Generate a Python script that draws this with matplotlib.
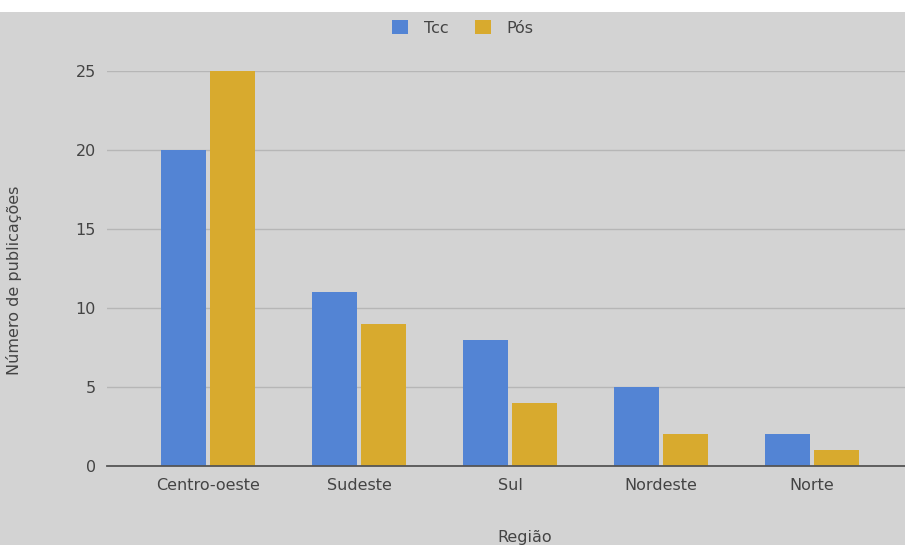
import numpy as np
import matplotlib
matplotlib.use('agg')
import matplotlib.pyplot as plt
from matplotlib.patches import Rectangle

regioes = ['Centro-oeste', 'Sudeste', 'Sul', 'Nordeste', 'Norte']
tcc = [20, 11, 8, 5, 2]
pos = [25, 9, 4, 2, 1]
yticks = [0, 5, 10, 15, 20, 25]

plt.rcParams['font.family'] = ['DejaVu Sans']
bg = '#d3d3d3'
txt = '#444444'

fig = plt.figure(figsize=(9.05, 5.45), dpi=100, facecolor=bg)
# thin white strip at the top of the picture
fig.patches.append(Rectangle((0, 1 - 12 / 545), 1, 12 / 545, transform=fig.transFigure,
                             facecolor='white', edgecolor='none', zorder=-10))

ax = fig.add_axes([107 / 905, 1 - 466 / 545, 1 - 107 / 905, (466 - 71) / 545])
ax.set_facecolor(bg)

x = np.arange(len(regioes))
w = 0.30
ax.bar(x - 0.162, tcc, w, color='#5384d4', label='Tcc', zorder=3)
ax.bar(x + 0.162, pos, w, color='#d8aa2e', label='Pós', zorder=3)

ax.set_xlim(-0.669, 4.616)
ax.set_ylim(0, 25)
ax.set_yticks(yticks)
ax.set_xticks(x)
ax.set_xticklabels(regioes)
ax.tick_params(axis='both', length=0, colors=txt, labelsize=11.5)
ax.tick_params(axis='x', pad=9)
ax.tick_params(axis='y', pad=8)
ax.grid(axis='y', color='#b6b6b6', linewidth=1, zorder=1)
for s in ['top', 'right', 'left']:
    ax.spines[s].set_visible(False)
ax.spines['bottom'].set_color('#555555')
ax.spines['bottom'].set_linewidth(1.3)
ax.spines['bottom'].set_zorder(4)

ax.set_ylabel('Número de publicações', color=txt, fontsize=11.5)
ax.yaxis.set_label_coords(-85 / 798, 0.47)
ax.set_xlabel('Região', color=txt, fontsize=11.5)
ax.xaxis.set_label_coords((525 - 107) / 798, -64 / 395)

leg = fig.legend(loc='center', bbox_to_anchor=(463 / 905, 1 - 28 / 545), ncol=2,
                 frameon=False, fontsize=11.5, handlelength=1.0, handleheight=1.0,
                 columnspacing=1.6, handletextpad=1.0)
for t in leg.get_texts():
    t.set_color(txt)

fig.savefig('out.png', dpi=100, facecolor=fig.get_facecolor())
